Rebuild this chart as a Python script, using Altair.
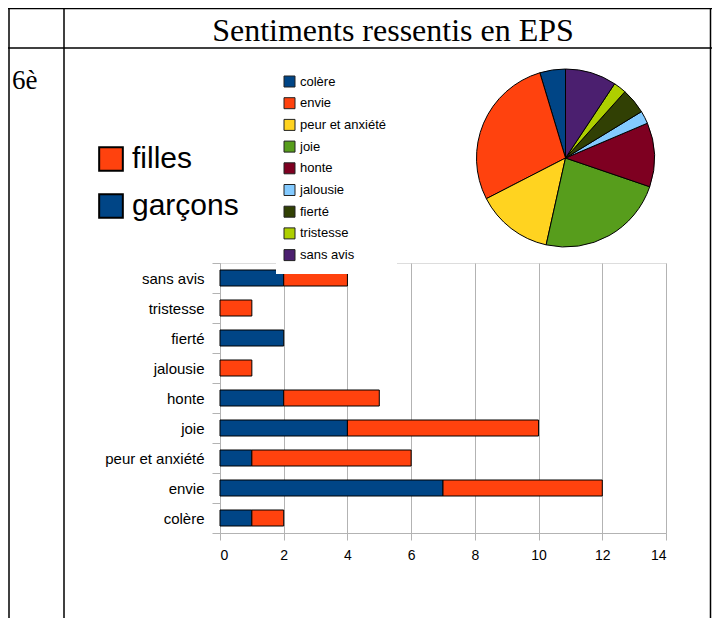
import altair as alt
import pandas as pd

# ---- data ----
title_text = ["Sentiments ressentis en EPS"]
row_label = ["6è"]
categories = ["colère", "envie", "peur et anxiété", "joie", "honte",
              "jalousie", "fierté", "tristesse", "sans avis"]
garcons = [1, 7, 1, 4, 2, 0, 2, 0, 2]
filles = [1, 5, 5, 6, 3, 1, 0, 1, 2]
groups = ["filles", "garçons"]
x_ticks = [0, 2, 4, 6, 8, 10, 12, 14]

pie_colors = ["#004586", "#ff420e", "#ffd320", "#579d1c", "#7e0021",
              "#83caff", "#314004", "#aecf00", "#4b1f6f"]
group_colors = ["#ff420e", "#004586"]
GRID = "#b3b3b3"

# long table for bars
rows = []
for c, g, f in zip(categories, garcons, filles):
    rows.append({"sentiment": c, "sexe": "garçons", "n": g})
    rows.append({"sentiment": c, "sexe": "filles", "n": f})
bars_df = pd.DataFrame(rows)
bars_df = bars_df[bars_df["n"] > 0]

pie_df = pd.DataFrame({
    "sentiment": categories,
    "total": [g + f for g, f in zip(garcons, filles)],
    "idx": list(range(len(categories))),
})

one = pd.DataFrame({"k": [0]})

# ---- frame lines (table) ----
def vrule(x, y1, y2):
    return alt.Chart(one).mark_rule(color="black", strokeWidth=1.5).encode(
        x=alt.value(x), y=alt.value(y1), y2=alt.value(y2))

def hrule(y, x1, x2):
    return alt.Chart(one).mark_rule(color="black", strokeWidth=1.5).encode(
        y=alt.value(y), x=alt.value(x1), x2=alt.value(x2))

frame = [
    vrule(-211, -255, 360),
    vrule(-156, -255, 360),
    vrule(490.5, -255, 360),
    hrule(-254.5, -212, 492),
    hrule(-215, -212, 492),
]

title = alt.Chart(pd.DataFrame({"t": title_text})).mark_text(
    font="Liberation Serif", fontSize=32, align="center", baseline="alphabetic",
    color="black").encode(text="t:N", x=alt.value(173), y=alt.value(-222))

label6 = alt.Chart(pd.DataFrame({"t": row_label})).mark_text(
    font="Liberation Serif", fontSize=27, align="left", baseline="alphabetic",
    color="black").encode(text="t:N", x=alt.value(-208), y=alt.value(-174))

# ---- stacked bars ----
bars = alt.Chart(bars_df).transform_calculate(
    rang="datum.sexe === 'garçons' ? 0 : 1"
).mark_bar(height=16, stroke="black", strokeWidth=1).encode(
    x=alt.X("n:Q", stack="zero",
            scale=alt.Scale(domain=[0, 14], nice=False),
            axis=alt.Axis(values=x_ticks, title=None, grid=True, gridColor=GRID,
                          tickColor=GRID, domainColor=GRID, tickSize=7,
                          labelPadding=8, labelFontSize=14, labelColor="black",
                          labelFont="Liberation Sans")),
    y=alt.Y("sentiment:N",
            scale=alt.Scale(domain=categories[::-1], paddingInner=0, paddingOuter=0),
            axis=alt.Axis(title=None, tickBand="extent", tickColor=GRID,
                          domainColor=GRID, tickSize=8, labelPadding=8,
                          labelFontSize=15, labelColor="black",
                          labelFont="Liberation Sans", grid=False)),
    color=alt.Color("sexe:N",
                    scale=alt.Scale(domain=groups, range=group_colors),
                    legend=alt.Legend(orient="none", legendX=-124, legendY=-119,
                                      title=None, symbolType="square",
                                      symbolSize=560, symbolStrokeColor="black",
                                      symbolStrokeWidth=2, symbolOpacity=1,
                                      labelFontSize=30, labelFont="Liberation Sans",
                                      labelColor="black", labelOffset=6,
                                      rowPadding=15, padding=0)),
    order=alt.Order("rang:Q"),
)

# white legend box hiding part of the top frame line
box = alt.Chart(one).mark_rect(color="white").encode(
    x=alt.value(56), x2=alt.value(177), y=alt.value(-197), y2=alt.value(11))

# ---- pie ----
pie = alt.Chart(pie_df).mark_arc(outerRadius=89, stroke="black", strokeWidth=1).encode(
    x=alt.value(345.5), y=alt.value(-105),
    theta=alt.Theta("total:Q", stack=True),
    color=alt.Color("sentiment:N",
                    scale=alt.Scale(domain=categories, range=pie_colors),
                    legend=alt.Legend(orient="none", legendX=63, legendY=-188,
                                      title=None, symbolType="square",
                                      symbolSize=121, symbolStrokeColor="#222",
                                      symbolStrokeWidth=1, symbolOpacity=1,
                                      labelFontSize=13, labelFont="Liberation Sans",
                                      labelColor="black", labelOffset=4,
                                      rowPadding=6.7, padding=0)),
    order=alt.Order("idx:Q", sort="descending"),
)

chart = alt.layer(*frame, title, label6, bars, box, pie).resolve_scale(
    color="independent"
).properties(
    width=446, height=270,
    padding={"left": 212, "top": 255, "right": 46, "bottom": 85},
    autosize="none",
    background="white",
).configure_view(stroke=GRID).configure(font="Liberation Sans")

chart.save("out.html", embed_options={"renderer": "svg", "actions": False})
